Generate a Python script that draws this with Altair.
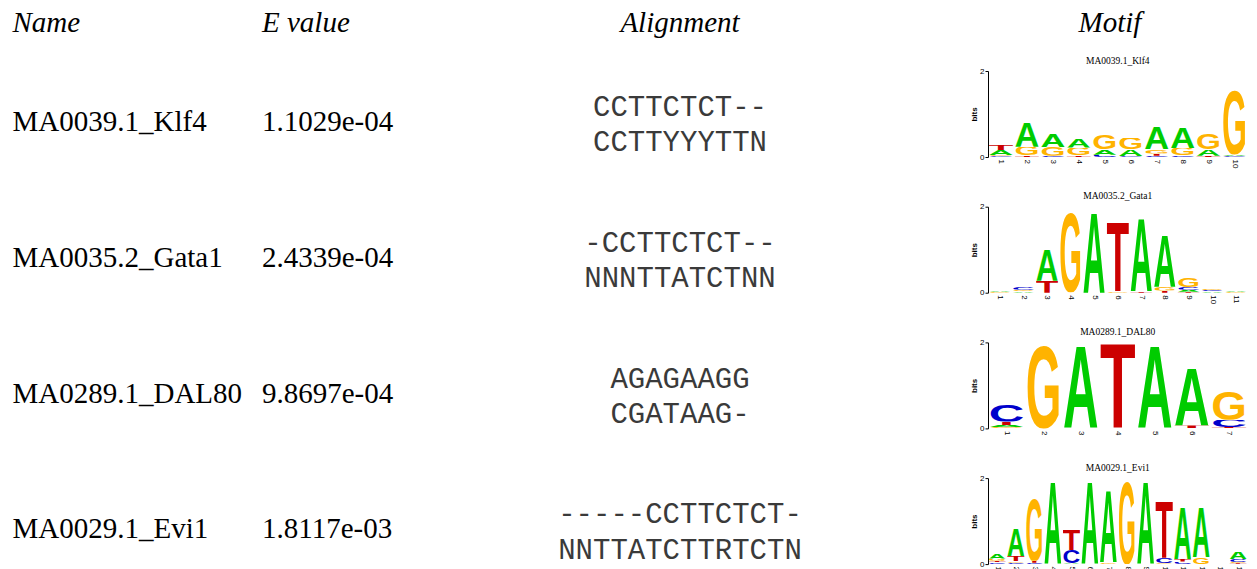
import urllib.parse
import altair as alt
import pandas as pd

# ---------------- table data ----------------
headers = ["Name", "E value", "Alignment", "Motif"]
names = ["MA0039.1_Klf4", "MA0035.2_Gata1", "MA0289.1_DAL80", "MA0029.1_Evi1"]
evalues = ["1.1029e-04", "2.4339e-04", "9.8697e-04", "1.8117e-03"]
query_aln = ["CCTTCTCT--", "-CCTTCTCT--", "AGAGAAGG", "-----CCTTCTCT-"]
target_aln = ["CCTTYYYTTN", "NNNTTATCTNN", "CGATAAG-", "NNTTATCTTRTCTN"]

# ---------------- logo data (bits per letter per position) ----------------
klf4_A = [0.12, 0.58, 0.31, 0.22, 0.13, 0.16, 0.52, 0.48, 0.15, 0.04]
klf4_C = [0.02, 0.00, 0.03, 0.00, 0.05, 0.02, 0.03, 0.04, 0.00, 0.02]
klf4_G = [0.02, 0.20, 0.20, 0.18, 0.33, 0.26, 0.10, 0.17, 0.38, 1.50]
klf4_T = [0.13, 0.04, 0.00, 0.04, 0.00, 0.00, 0.05, 0.00, 0.03, 0.00]

gata1_A = [0.03, 0.03, 0.73, 0.01, 1.92, 0.00, 1.74, 1.23, 0.05, 0.03, 0.03]
gata1_C = [0.00, 0.06, 0.00, 0.00, 0.00, 0.00, 0.00, 0.00, 0.06, 0.03, 0.00]
gata1_G = [0.02, 0.04, 0.00, 1.89, 0.00, 0.04, 0.00, 0.09, 0.21, 0.04, 0.02]
gata1_T = [0.00, 0.00, 0.28, 0.00, 0.00, 1.64, 0.04, 0.05, 0.02, 0.00, 0.00]

dal80_A = [0.05, 0.00, 1.94, 0.00, 1.94, 1.36, 0.00]
dal80_C = [0.40, 0.00, 0.00, 0.00, 0.00, 0.00, 0.17]
dal80_G = [0.03, 1.94, 0.00, 0.00, 0.00, 0.00, 0.69]
dal80_T = [0.08, 0.00, 0.00, 1.99, 0.00, 0.07, 0.03]

evi1_A = [0.13, 0.63, 0.00, 1.94, 0.02, 1.94, 1.69, 0.00, 1.94, 0.00, 1.24, 1.16, 0.00, 0.17]
evi1_C = [0.04, 0.03, 0.03, 0.00, 0.31, 0.00, 0.00, 0.00, 0.00, 0.13, 0.06, 0.00, 0.00, 0.07]
evi1_G = [0.05, 0.04, 1.47, 0.00, 0.00, 0.00, 0.04, 1.94, 0.00, 0.02, 0.00, 0.16, 0.00, 0.03]
evi1_T = [0.04, 0.12, 0.05, 0.00, 0.49, 0.00, 0.00, 0.00, 0.00, 1.35, 0.06, 0.00, 0.00, 0.02]

logos = [
    (klf4_A, klf4_C, klf4_G, klf4_T),
    (gata1_A, gata1_C, gata1_G, gata1_T),
    (dal80_A, dal80_C, dal80_G, dal80_T),
    (evi1_A, evi1_C, evi1_G, evi1_T),
]

# ---------------- styles ----------------
letter_colors = {"A": "#00cc00", "C": "#0000cc", "G": "#ffb300", "T": "#cc0000"}


def glyph_url(ch):
    svg = (
        "<svg xmlns='http://www.w3.org/2000/svg' width='100' height='100' "
        "viewBox='0 0 100 100' preserveAspectRatio='none'>"
        "<text x='0' y='100' textLength='100' lengthAdjust='spacingAndGlyphs' "
        "font-family='Liberation Sans, Arial, sans-serif' font-weight='bold' "
        f"font-size='140' fill='{letter_colors[ch]}'>{ch}</text></svg>"
    )
    return "data:image/svg+xml;charset=utf-8," + urllib.parse.quote(svg)


glyphs = {ch: glyph_url(ch) for ch in "ACGT"}


def logo_frame(cols):
    rows = []
    n = len(cols[0])
    for p in range(n):
        items = [(h[p], ch) for h, ch in zip(cols, "ACGT") if h[p] > 0]
        items.sort()
        base = 0.0
        for h, ch in items:
            rows.append({"pos": p + 1, "letter": ch, "y0": base, "y1": base + h,
                         "url": glyphs[ch]})
            base += h
    return pd.DataFrame(rows), n


def logo_chart(i):
    df, n = logo_frame(logos[i])
    return (
        alt.Chart(df)
        .transform_calculate(x0="datum.pos - 0.48", x1="datum.pos + 0.48")
        .mark_image(aspect=False)
        .encode(
            x=alt.X("x0:Q",
                    scale=alt.Scale(domain=[0.5, n + 0.5], nice=False, zero=False),
                    axis=alt.Axis(values=list(range(1, n + 1)), format="d",
                                  labelAngle=90, domain=False, ticks=False,
                                  grid=False, labelFontSize=8, labelPadding=2,
                                  labelOverlap=False, labelColor="black",
                                  title=None)),
            x2="x1:Q",
            y=alt.Y("y0:Q", scale=alt.Scale(domain=[0, 2], nice=False),
                    axis=alt.Axis(values=[0, 1, 2], format="d", title="bits",
                                  grid=False, tickSize=3, labelFontSize=8,
                                  labelPadding=1, titleFontSize=8,
                                  titleFontWeight="bold", titlePadding=1,
                                  domainColor="black", tickColor="black",
                                  labelColor="black", titleColor="black")),
            y2="y1:Q",
            url="url:N",
        )
        .properties(width=259.5, height=86,
                    title=alt.TitleParams(names[i], fontSize=9.5,
                                          font="Liberation Serif",
                                          fontWeight="normal", anchor="middle",
                                          offset=2, color="black"))
    )


# ---------------- header ----------------
header_x = [4.5, 254, 672, 1102]
header_align = ["left", "left", "center", "center"]
header_layers = []
for k, h in enumerate(headers):
    header_layers.append(
        alt.Chart(pd.DataFrame({"h": [h]}))
        .mark_text(font="Liberation Serif", fontSize=29, fontStyle="italic",
                   align=header_align[k], baseline="alphabetic", color="black")
        .encode(x=alt.value(header_x[k]), y=alt.value(23.7), text="h:N")
    )
header = alt.layer(*header_layers).properties(width=1240, height=63)

# ---------------- table body ----------------
tbl = pd.DataFrame({"row": list(range(4)), "name": names, "evalue": evalues,
                    "q": query_aln, "t": target_aln})
ypos = alt.Y("row:O", axis=None, scale=alt.Scale(type="point", padding=0.5))
base = alt.Chart(tbl)
name_t = base.mark_text(font="Liberation Serif", fontSize=29, align="left",
                        baseline="alphabetic", dy=-7.9, color="black").encode(
    x=alt.value(4.5), y=ypos, text="name:N")
ev_t = base.mark_text(font="Liberation Serif", fontSize=29, align="left",
                      baseline="alphabetic", dy=-7.9, color="black").encode(
    x=alt.value(254), y=ypos, text="evalue:N")
q_t = base.mark_text(font="Liberation Mono", fontSize=29, align="center",
                     baseline="alphabetic", dy=-23, color="#3a3a3a").encode(
    x=alt.value(672), y=ypos, text="q:N")
t_t = base.mark_text(font="Liberation Mono", fontSize=29, align="center",
                     baseline="alphabetic", dy=12.5, color="#3a3a3a").encode(
    x=alt.value(672), y=ypos, text="t:N")
body_text = alt.layer(name_t, ev_t, q_t, t_t).properties(width=979.5, height=543.2)

logo_col = alt.vconcat(*[logo_chart(i) for i in range(4)], spacing=49.7,
                       bounds="flush")
body = alt.hconcat(body_text, logo_col, spacing=0, bounds="flush")

chart = (
    alt.vconcat(header, body, spacing=0, bounds="flush")
    .properties(padding=0)
    .configure(font="Liberation Sans")
    .configure_view(stroke="transparent", strokeWidth=0)
)

chart.save("out.html", embed_options={"renderer": "svg", "actions": False})
